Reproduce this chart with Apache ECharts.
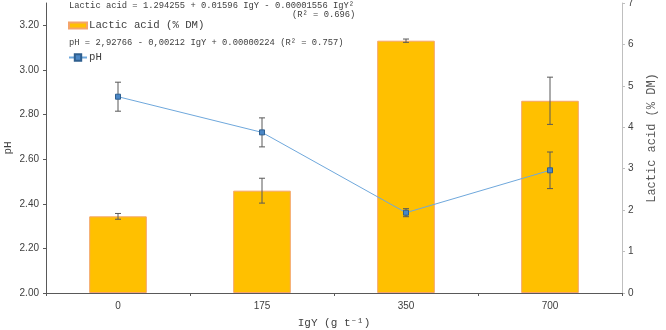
<!DOCTYPE html>
<html>
<head>
<meta charset="utf-8">
<script src="https://cdn.jsdelivr.net/npm/echarts@6/dist/echarts.min.js"></script>
<style>
html, body { margin: 0; padding: 0; background: #fff; }
#chart { width: 666px; height: 330px; }
</style>
</head>
<body>
<div id="chart"></div>
<script>
// 数据
var categories = ['0', '175', '350', '700'];
var lacticAcid = [1.85, 2.47, 6.09, 4.64];
var lacticErr = [0.07, 0.30, 0.04, 0.57];
var phValues = [2.88, 2.72, 2.36, 2.55];
var phErr = [0.065, 0.065, 0.018, 0.082];
var phTicks = [2.0, 2.2, 2.4, 2.6, 2.8, 3.0, 3.2];
var lacticTicks = [0, 1, 2, 3, 4, 5, 6, 7];

var mono = '"Liberation Mono", "Courier New", monospace';
var sans = '"Liberation Sans", Arial, sans-serif';

// 误差线数据 [类目索引, 下限, 上限]
function errData(vals, errs) {
    var out = [];
    for (var i = 0; i < vals.length; i++) {
        out.push([i, vals[i] - errs[i], vals[i] + errs[i]]);
    }
    return out;
}

function renderErr(params, api) {
    var x = api.value(0);
    var top = api.coord([x, api.value(2)]);
    var bot = api.coord([x, api.value(1)]);
    var w = 3;
    var st = { stroke: '#595959', lineWidth: 1 };
    return {
        type: 'group',
        children: [
            { type: 'line', shape: { x1: top[0], y1: top[1], x2: bot[0], y2: bot[1] }, style: st },
            { type: 'line', shape: { x1: top[0] - w, y1: top[1], x2: top[0] + w, y2: top[1] }, style: st },
            { type: 'line', shape: { x1: bot[0] - w, y1: bot[1], x2: bot[0] + w, y2: bot[1] }, style: st }
        ]
    };
}

var chart = echarts.init(document.getElementById('chart'));

var option = {
    animation: false,
    backgroundColor: '#fff',
    grid: { left: 46, right: 44, top: 3, bottom: 37, outerBoundsMode: 'none', containLabel: false },
    legend: [
        {
            data: ['Lactic acid (% DM)'],
            left: 63, top: 15,
            itemWidth: 18, itemHeight: 6,
            icon: 'rect',
            textStyle: { fontFamily: mono, fontSize: 10.7, color: '#404040', padding: [0, 0, 0, -3] }
        },
        {
            data: ['pH'],
            left: 63, top: 47,
            itemWidth: 18, itemHeight: 8,
            textStyle: { fontFamily: mono, fontSize: 10.7, color: '#404040', padding: [0, 0, 0, -3] }
        }
    ],
    graphic: [
        {
            type: 'text', left: 69, top: 1,
            style: { text: 'Lactic acid = 1.294255 + 0.01596 IgY - 0.00001556 IgY²', font: '8.8px ' + mono, fill: '#404040' }
        },
        {
            type: 'text', left: 292, top: 10,
            style: { text: '(R² = 0.696)', font: '8.8px ' + mono, fill: '#404040' }
        },
        {
            type: 'text', left: 69, top: 38,
            style: { text: 'pH = 2,92766 - 0,00212 IgY + 0.00000224 (R² = 0.757)', font: '8.8px ' + mono, fill: '#404040' }
        }
    ],
    xAxis: {
        type: 'category',
        data: categories,
        name: 'IgY (g t⁻¹)',
        nameLocation: 'middle',
        nameGap: 25,
        nameTextStyle: { fontFamily: mono, fontSize: 11, color: '#404040' },
        axisLine: { lineStyle: { color: '#595959', width: 1 } },
        axisTick: { show: true, length: 3, lineStyle: { color: '#595959' } },
        axisLabel: { fontFamily: sans, fontSize: 10, color: '#404040', margin: 8 }
    },
    yAxis: [
        {
            type: 'value',
            min: 2, max: 3.3, interval: 0.2,
            name: 'pH',
            nameLocation: 'middle',
            nameGap: 32,
            nameMoveOverlap: false,
            nameTextStyle: { fontFamily: mono, fontSize: 11, color: '#404040' },
            splitLine: { show: false },
            axisLine: { show: true, lineStyle: { color: '#595959', width: 1 } },
            axisTick: { show: true, length: 3, customValues: phTicks, lineStyle: { color: '#595959' } },
            axisLabel: {
                customValues: phTicks,
                fontFamily: sans, fontSize: 10, color: '#404040', margin: 7,
                formatter: function (v) { return v.toFixed(2); }
            }
        },
        {
            type: 'value',
            min: 0, max: 7, interval: 1,
            position: 'right',
            name: 'Lactic acid (% DM)',
            nameLocation: 'middle',
            nameGap: 24,
            nameRotate: 90,
            nameMoveOverlap: false,
            nameTextStyle: { fontFamily: mono, fontSize: 12, color: '#595959', padding: [0, 0, 0, 20] },
            splitLine: { show: false },
            axisLine: { show: true, lineStyle: { color: '#bfbfbf', width: 1 } },
            axisTick: { show: true, length: 3, customValues: lacticTicks, lineStyle: { color: '#bfbfbf' } },
            axisLabel: { customValues: lacticTicks, fontFamily: sans, fontSize: 10, color: '#404040', margin: 6 }
        }
    ],
    series: [
        {
            name: 'Lactic acid (% DM)',
            type: 'bar',
            yAxisIndex: 1,
            data: lacticAcid,
            barWidth: '40%',
            itemStyle: { color: '#FFC000', borderColor: '#F4A46A', borderWidth: 1 },
            z: 2
        },
        {
            name: 'lacticErr',
            type: 'custom',
            yAxisIndex: 1,
            data: errData(lacticAcid, lacticErr),
            renderItem: renderErr,
            z: 3
        },
        {
            name: 'pH',
            type: 'line',
            yAxisIndex: 0,
            data: phValues,
            symbol: 'rect',
            symbolSize: 5,
            lineStyle: { color: '#6FA8DC', width: 1 },
            itemStyle: { color: '#4A86C5', borderColor: '#2F5F8F', borderWidth: 1 },
            z: 5
        },
        {
            name: 'phErr',
            type: 'custom',
            yAxisIndex: 0,
            data: errData(phValues, phErr),
            renderItem: renderErr,
            z: 4
        }
    ]
};

chart.setOption(option);
</script>
</body>
</html>
